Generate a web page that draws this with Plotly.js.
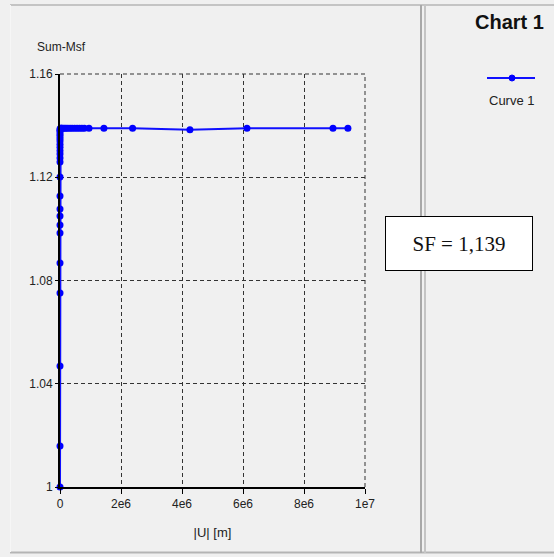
<!DOCTYPE html>
<html>
<head>
<meta charset="utf-8">
<script src="https://cdn.plot.ly/plotly-3.0.1.min.js"></script>
<style>html,body{margin:0;padding:0;background:#f0f0f0;}#chart{width:554px;height:557px;}</style>
</head>
<body>
<div id="chart"></div>
<script>
// Curve 1 data: |U| [m] vs Sum-Msf
const uDisp = [0, 0, 0, 0, 0, 0, 0, 0, 0, 0, 0, 0,
  0, 0, 0, 0, 0, 0, 0, 0, 0, 0, 0, 0,
  20000, 40000, 60000, 100000, 150000, 200000, 260000, 330000, 400000, 480000, 560000, 640000, 720000, 800000,
  950000, 1440000, 2380000, 4260000, 6130000, 8950000, 9440000];
const sumMsf = [1.0, 1.0159, 1.0469, 1.0752, 1.0868, 1.0984, 1.1015, 1.1050, 1.1077, 1.1127, 1.1201, 1.1259,
  1.1275, 1.1290, 1.1303, 1.1316, 1.1328, 1.1340, 1.1350, 1.1360, 1.1368, 1.1376, 1.1382, 1.1387,
  1.139, 1.139, 1.139, 1.139, 1.139, 1.139, 1.139, 1.139, 1.139, 1.139, 1.139, 1.139, 1.139, 1.139,
  1.139, 1.139, 1.139, 1.1384, 1.139, 1.139, 1.139];
const xTickVals = [0, 2e6, 4e6, 6e6, 8e6, 1e7];
const xTickText = ["0", "2e6", "4e6", "6e6", "8e6", "1e7"];
const yTickVals = [1, 1.04, 1.08, 1.12, 1.16];
const yTickText = ["1", "1.04", "1.08", "1.12", "1.16"];
const seriesName = "Curve 1";
const chartTitle = "Chart 1";
const sfLabel = "SF = 1,139";

const W = 554, H = 557;
const px = v => v / W;
const py = v => 1 - v / H;

const trace = {
  x: uDisp, y: sumMsf, type: 'scatter', mode: 'lines+markers', name: seriesName,
  line: {color: '#1010ff', width: 2},
  marker: {color: '#0000ff', size: 7},
  showlegend: false, hoverinfo: 'skip', cliponaxis: false
};

const FONT = 'Liberation Sans, Arial, sans-serif';
const tickFont = {family: FONT, size: 12, color: '#222'};

const layout = {
  width: W, height: H,
  margin: {l: 0, r: 0, t: 0, b: 0},
  paper_bgcolor: '#f0f0f0', plot_bgcolor: '#f0f0f0',
  showlegend: false,
  xaxis: {
    domain: [px(60), px(365)], range: [0, 1e7], fixedrange: true,
    tickvals: xTickVals, ticktext: xTickText, tickfont: tickFont,
    ticks: 'outside', ticklen: 5, tickcolor: '#000', tickwidth: 1,
    showline: true, linecolor: '#000', linewidth: 2,
    showgrid: true, gridcolor: '#333', gridwidth: 1, griddash: '4px,3px',
    zeroline: false,
    title: {text: '|U| [m]', font: {family: FONT, size: 13, color: '#222'}, standoff: 17}
  },
  yaxis: {
    domain: [py(487), py(74)], range: [1, 1.16], fixedrange: true,
    tickvals: yTickVals, ticktext: yTickText, tickfont: tickFont,
    ticks: 'outside', ticklen: 3, tickcolor: '#000', tickwidth: 1,
    showline: true, linecolor: '#000', linewidth: 2,
    showgrid: true, gridcolor: '#333', gridwidth: 1, griddash: '4px,3px',
    zeroline: false
  },
  shapes: [
    // panel frame lines
    {type: 'line', xref: 'paper', yref: 'paper', x0: px(10), x1: 1, y0: py(5), y1: py(5), line: {color: '#c4c4c4', width: 2}},
    {type: 'line', xref: 'paper', yref: 'paper', x0: px(10), x1: 1, y0: py(552.5), y1: py(552.5), line: {color: '#b4b4b4', width: 2}},
    {type: 'line', xref: 'paper', yref: 'paper', x0: px(10.5), x1: px(10.5), y0: py(5), y1: py(552), line: {color: '#f6f6f6', width: 1}},
    {type: 'line', xref: 'paper', yref: 'paper', x0: px(421), x1: px(421), y0: py(5), y1: py(553), line: {color: '#a8a8a8', width: 2}},
    {type: 'line', xref: 'paper', yref: 'paper', x0: px(425), x1: px(425), y0: py(5), y1: py(553), line: {color: '#c4c4c4', width: 2}},
    // top and right dashed borders of plot
    {type: 'line', xref: 'x', yref: 'paper', x0: 0, x1: 1e7, y0: py(74), y1: py(74), line: {color: '#333', width: 1, dash: '4px,3px'}},
    {type: 'line', xref: 'paper', yref: 'y', x0: px(365), x1: px(365), y0: 1, y1: 1.16, line: {color: '#333', width: 1, dash: '4px,3px'}},
    // legend symbol
    {type: 'line', xref: 'paper', yref: 'paper', x0: px(487), x1: px(535), y0: py(78), y1: py(78), line: {color: '#1010ff', width: 2}},
    {type: 'circle', xref: 'paper', yref: 'paper', x0: px(509), x1: px(515), y0: py(75), y1: py(81), fillcolor: '#0000ff', line: {color: '#0000ff', width: 1}}
  ],
  annotations: [
    {text: 'Sum-Msf', xref: 'paper', yref: 'paper', x: px(35), y: py(47), xanchor: 'left', yanchor: 'middle', showarrow: false,
     font: {family: FONT, size: 12, color: '#222'}},
    {text: '<b>' + chartTitle + '</b>', xref: 'paper', yref: 'paper', x: px(546), y: py(22), xanchor: 'right', yanchor: 'middle', showarrow: false,
     font: {family: FONT, size: 20, color: '#111'}},
    {text: seriesName, xref: 'paper', yref: 'paper', x: px(512), y: py(101), xanchor: 'center', yanchor: 'middle', showarrow: false,
     font: {family: FONT, size: 13, color: '#222'}},
    {text: sfLabel, xref: 'paper', yref: 'paper', x: px(459), y: py(243), xanchor: 'center', yanchor: 'middle', showarrow: false,
     width: 144, height: 51, bgcolor: '#ffffff', bordercolor: '#000', borderwidth: 1, borderpad: 1,
     font: {family: 'Liberation Serif, Times New Roman, serif', size: 21, color: '#111'}}
  ]
};

Plotly.newPlot('chart', [trace], layout, {displayModeBar: false, staticPlot: true});
</script>
</body>
</html>
